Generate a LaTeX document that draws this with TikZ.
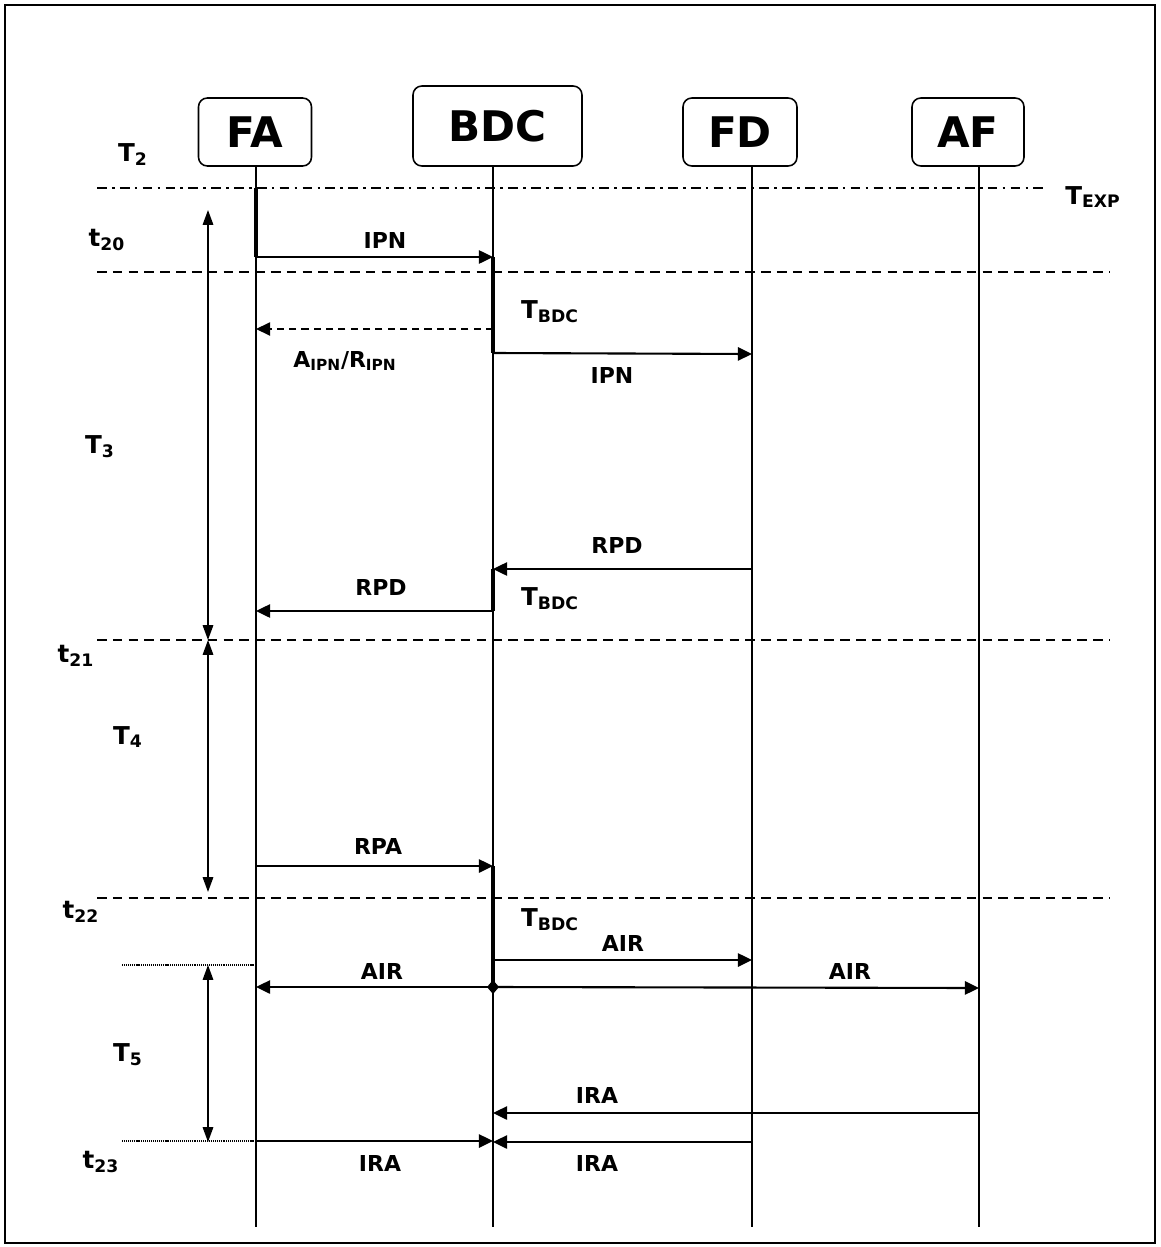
\documentclass[tikz,border=0pt]{standalone}
\usepackage{fontspec}
\setmainfont{DejaVu Sans}
\usetikzlibrary{arrows.meta}

\begin{document}
\begin{tikzpicture}[x=0.02cm, y=-0.02cm, actor/.style={draw, line width=0.9pt, rounded corners=5pt, inner sep=0pt, font=\fontsize{24}{24}\selectfont\bfseries}, life/.style={line width=0.9pt}, act/.style={line width=2.8pt}, msg/.style={-{Triangle[length=8pt,width=7.5pt]}, line width=1.2pt}, ack/.style={msg, dash pattern=on 4pt off 3pt, line width=0.8pt}, phase/.style={dash pattern=on 5.5pt off 3.5pt, line width=1.2pt}, expiry/.style={dash pattern=on 5.5pt off 3pt on 1.5pt off 3pt, line width=1.2pt}, dotline/.style={dash pattern=on 0.6pt off 0.5pt, line width=1.2pt}, span/.style={{Triangle[length=8.5pt,width=6pt]}-{Triangle[length=8.5pt,width=6pt]}, line width=0.9pt}, lbl/.style={font=\fontsize{12.5}{12.5}\selectfont\bfseries, inner sep=1pt}, tlbl/.style={font=\fontsize{14}{14}\selectfont\bfseries, inner sep=1pt}]
\useasboundingbox (0,0) rectangle (1160,1247);
\draw[line width=0.9pt] (5,5) rectangle (1155,1243);
% actors and lifelines
\node[actor, minimum width=2.26cm, minimum height=1.36cm] (fa) at (255,132) {FA};
\node[actor, minimum width=3.38cm, minimum height=1.6cm] (bdc) at (497.5,126) {BDC};
\node[actor, minimum width=2.28cm, minimum height=1.36cm] (fd) at (740,132) {FD};
\node[actor, minimum width=2.24cm, minimum height=1.36cm] (af) at (968,132) {AF};
\coordinate (lfa) at (256,166);\coordinate (lbdc) at (493,166);\coordinate (lfd) at (752,166);\coordinate (laf) at (979,166);
\draw[life] (lfa) -- (lfa |- 0,1227);\draw[life] (lbdc) -- (lbdc |- 0,1227);
\draw[life] (lfd) -- (lfd |- 0,1227);\draw[life] (laf) -- (laf |- 0,1227);
% time marks
\draw[expiry] (97,188) -- (1045,188);
\draw[phase] (97,272) -- (1110,272);\draw[phase] (97,640) -- (1110,640);\draw[phase] (97,898) -- (1110,898);
\draw[dotline] (122,965) -- (lfa |- 0,965);\draw[dotline] (122,1141) -- (lfa |- 0,1141);
\draw[span] (208,210) -- (208,640);\draw[span] (208,640) -- (208,892);\draw[span] (208,965) -- (208,1142);
\node[tlbl] (t2) at (133,155) {T\textsubscript{2}};
\node[tlbl] (texp) at (1093,197) {T\textsubscript{EXP}};
\node[tlbl] (t20) at (107,240) {t\textsubscript{20}};
\node[tlbl] (t3) at (100,447) {T\textsubscript{3}};
\node[tlbl] (t21) at (76,656) {t\textsubscript{21}};
\node[tlbl] (t4) at (128,737) {T\textsubscript{4}};
\node[tlbl] (t22) at (81,912) {t\textsubscript{22}};
\node[tlbl] (t5) at (128,1055) {T\textsubscript{5}};
\node[tlbl] (t23) at (101,1162) {t\textsubscript{23}};
% messages
\draw[act] (lfa |- 0,188) -- (lfa |- 0,257);
\draw[msg] (lfa |- 0,257) -- (lbdc |- 0,257);\node[lbl] (ipn1) at (385,240) {IPN};
\draw[act] (lbdc |- 0,257) -- (lbdc |- 0,353);\node[tlbl] (tbdc1) at (550,312) {T\textsubscript{BDC}};
\draw[ack] (lbdc |- 0,329) -- (lfa |- 0,329);\node[lbl] (arpn) at (345,361) {A\textsubscript{IPN}/R\textsubscript{IPN}};
\draw[msg] (lbdc |- 0,353) -- (lfd |- 0,354);\node[lbl] (ipn2) at (612,375) {IPN};
\draw[msg] (lfd |- 0,569) -- (lbdc |- 0,569);\node[lbl] (rpd1) at (617,545) {RPD};
\draw[act] (lbdc |- 0,569) -- (lbdc |- 0,611);\node[tlbl] (tbdc2) at (550,599) {T\textsubscript{BDC}};
\draw[msg] (lbdc |- 0,611) -- (lfa |- 0,611);\node[lbl] (rpd2) at (381,587) {RPD};
\draw[msg] (lfa |- 0,866) -- (lbdc |- 0,866);\node[lbl] (rpa) at (378,846) {RPA};
\draw[act] (lbdc |- 0,866) -- (lbdc |- 0,987);\node[tlbl] (tbdc3) at (550,920) {T\textsubscript{BDC}};
\draw[msg] (lbdc |- 0,960) -- (lfd |- 0,960);\node[lbl] (air1) at (623,943) {AIR};
\draw[msg] (lbdc |- 0,987) -- (lfa |- 0,987);\node[lbl] (air2) at (382,971) {AIR};
\draw[msg] (lbdc |- 0,987) -- (laf |- 0,988);\node[lbl] (air3) at (850,971) {AIR};
\fill (lbdc |- 0,987) +(-6,0) -- +(0,-7) -- +(6,0) -- +(0,7) -- cycle;
\draw[msg] (laf |- 0,1113) -- (lbdc |- 0,1113);\node[lbl] (ira1) at (597,1095) {IRA};
\draw[msg] (lfa |- 0,1141) -- (lbdc |- 0,1141);\node[lbl] (ira2) at (380,1163) {IRA};
\draw[msg] (lfd |- 0,1142) -- (lbdc |- 0,1142);\node[lbl] (ira3) at (597,1163) {IRA};
\end{tikzpicture}
\end{document}
